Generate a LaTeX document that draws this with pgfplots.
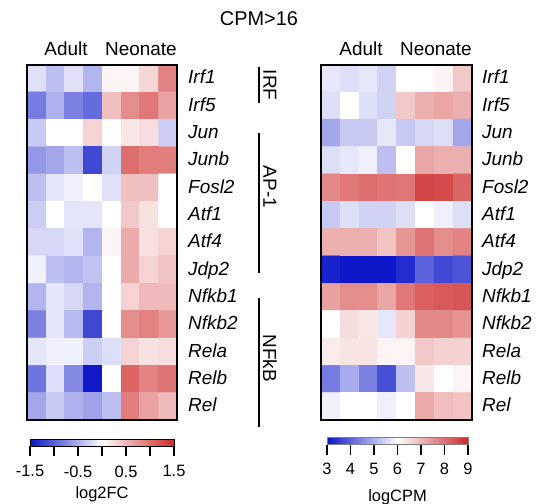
\documentclass[border=0pt]{standalone}
\usepackage{pgfplots}
\pgfplotsset{compat=1.18}
\usepackage{fontspec}
\setmainfont{Liberation Sans}
\pgfplotsset{colormap={bwr}{rgb255=(10,20,200) rgb255=(255,255,255) rgb255=(205,40,40)}}
\newcommand{\lab}{\fontsize{19}{22}\selectfont}
\newcommand{\tl}{\fontsize{16.5}{19}\selectfont}
\begin{document}
\begin{tikzpicture}
\path[use as bounding box] (0,0) rectangle (539bp,504bp);
% ---------------- left heatmap: log2FC
\begin{axis}[at={(27bp,84bp)}, anchor=south west, scale only axis,
  width=150bp, height=355.5bp,
  xmin=-0.5, xmax=7.5, ymin=-0.5, ymax=12.5, y dir=reverse,
  xtick=\empty, ytick=\empty, axis on top,
  axis line style={line width=2bp},
  colormap name=bwr, point meta min=-1.5, point meta max=1.5,
  colorbar horizontal,
  colorbar style={at={(parent axis.south west)}, anchor=north west,
    xshift=3bp, yshift=-10.5bp, scale only axis, width=144bp, height=7bp,
    xtick={-1.5,-1,-0.5,0,0.5,1,1.5}, xticklabels={-1.5,,-0.5,,0.5,,1.5},
    xtick pos=bottom, ytick=\empty,
    tick align=outside, major tick length=10bp,
    xtick style={black, line width=1.2bp},
    axis line style={black, line width=0.8bp},
    xticklabel style={font=\tl, yshift=-6bp},
    xlabel={log2FC}, xlabel style={font=\tl, yshift=-2.5bp}}]
\addplot[matrix plot*, mesh/cols=8, point meta=explicit] table[row sep=\\, meta=c]{
x y c\\
0 0 -0.19\\ 1 0 -0.41\\ 2 0 -0.19\\ 3 0 -0.47\\ 4 0 0.07\\ 5 0 0.07\\ 6 0 0.28\\ 7 0 0.87\\
0 1 -0.84\\ 1 1 -0.50\\ 2 1 -0.81\\ 3 1 -0.94\\ 4 1 0.45\\ 5 1 0.80\\ 6 1 0.94\\ 7 1 0.66\\
0 2 -0.34\\ 1 2 0\\ 2 2 0\\ 3 2 0.31\\ 4 2 0\\ 5 2 0.17\\ 6 2 0.24\\ 7 2 -0.31\\
0 3 -0.66\\ 1 3 -0.56\\ 2 3 -0.41\\ 3 3 -1.16\\ 4 3 -0.28\\ 5 3 1.01\\ 6 3 0.91\\ 7 3 0.91\\
0 4 -0.41\\ 1 4 -0.16\\ 2 4 -0.09\\ 3 4 0\\ 4 4 -0.19\\ 5 4 0.45\\ 6 4 0.45\\ 7 4 0\\
0 5 -0.31\\ 1 5 0\\ 2 5 -0.16\\ 3 5 -0.16\\ 4 5 0\\ 5 5 0.38\\ 6 5 0.21\\ 7 5 0\\
0 6 -0.25\\ 1 6 -0.25\\ 2 6 -0.19\\ 3 6 -0.47\\ 4 6 0.07\\ 5 6 0.59\\ 6 6 0.21\\ 7 6 0.31\\
0 7 -0.09\\ 1 7 -0.41\\ 2 7 -0.47\\ 3 7 -0.38\\ 4 7 0\\ 5 7 0.59\\ 6 7 0.31\\ 7 7 0.42\\
0 8 -0.47\\ 1 8 -0.16\\ 2 8 -0.25\\ 3 8 -0.47\\ 4 8 0\\ 5 8 0.31\\ 6 8 0.49\\ 7 8 0.49\\
0 9 -0.81\\ 1 9 -0.16\\ 2 9 -0.44\\ 3 9 -1.16\\ 4 9 0\\ 5 9 0.80\\ 6 9 0.87\\ 7 9 0.73\\
0 10 -0.16\\ 1 10 -0.09\\ 2 10 -0.09\\ 3 10 -0.31\\ 4 10 -0.21\\ 5 10 0.31\\ 6 10 0.21\\ 7 10 0.24\\
0 11 -0.88\\ 1 11 -0.21\\ 2 11 -0.75\\ 3 11 -1.47\\ 4 11 0\\ 5 11 1.08\\ 6 11 0.87\\ 7 11 0.98\\
0 12 -0.56\\ 1 12 -0.34\\ 2 12 -0.50\\ 3 12 -0.59\\ 4 12 -0.41\\ 5 12 0.91\\ 6 12 0.66\\ 7 12 0.49\\
};
\end{axis}
% ---------------- right heatmap: logCPM
\begin{axis}[at={(321bp,84bp)}, anchor=south west, scale only axis,
  width=151bp, height=355.5bp,
  xmin=-0.5, xmax=7.5, ymin=-0.5, ymax=12.5, y dir=reverse,
  xtick=\empty, ytick=\empty, axis on top,
  axis line style={line width=2bp},
  colormap name=bwr, point meta min=3, point meta max=9,
  colorbar horizontal,
  colorbar style={at={(parent axis.south west)}, anchor=north west,
    xshift=6bp, yshift=-9bp, scale only axis, width=141bp, height=7bp,
    xtick={3,4,5,6,7,8,9}, xticklabels={3,4,5,6,7,8,9},
    xtick pos=bottom, ytick=\empty,
    tick align=outside, major tick length=10bp,
    xtick style={black, line width=1.2bp},
    axis line style={gray, line width=0.8bp},
    xticklabel style={font=\tl, yshift=-5bp},
    xlabel={logCPM}, xlabel style={font=\tl, yshift=-8bp}}]
\addplot[matrix plot*, mesh/cols=8, point meta=explicit] table[row sep=\\, meta=c]{
x y c\\
0 0 5.69\\ 1 0 5.59\\ 2 0 5.69\\ 3 0 5.44\\ 4 0 6\\ 5 0 6\\ 6 0 6.14\\ 7 0 6.77\\
0 1 5.59\\ 1 1 6\\ 2 1 5.59\\ 3 1 5.44\\ 4 1 6.77\\ 5 1 7.12\\ 6 1 7.26\\ 7 1 7.12\\
0 2 4.88\\ 1 2 5.31\\ 2 2 5.31\\ 3 2 5.69\\ 4 2 5.31\\ 5 2 5.50\\ 6 2 5.59\\ 7 2 4.88\\
0 3 5.59\\ 1 3 5.69\\ 2 3 5.81\\ 3 3 5.19\\ 4 3 6\\ 5 3 7.26\\ 6 3 7.12\\ 7 3 7.12\\
0 4 7.67\\ 1 4 7.88\\ 2 4 8.02\\ 3 4 7.95\\ 4 4 7.91\\ 5 4 8.58\\ 6 4 8.51\\ 7 4 8.16\\
0 5 5.31\\ 1 5 5.59\\ 2 5 5.44\\ 3 5 5.44\\ 4 5 5.59\\ 5 5 6\\ 6 5 5.81\\ 7 5 5.59\\
0 6 7.12\\ 1 6 7.12\\ 2 6 7.12\\ 3 6 6.84\\ 4 6 7.47\\ 5 6 7.95\\ 6 6 7.60\\ 7 6 7.74\\
0 7 3.19\\ 1 7 3.05\\ 2 7 3.05\\ 3 7 3.05\\ 4 7 3.31\\ 5 7 4.00\\ 6 7 3.69\\ 7 7 3.81\\
0 8 7.33\\ 1 8 7.60\\ 2 8 7.60\\ 3 8 7.26\\ 4 8 7.88\\ 5 8 8.23\\ 6 8 8.30\\ 7 8 8.37\\
0 9 6\\ 1 9 6.49\\ 2 9 6.35\\ 3 9 5.69\\ 4 9 6.63\\ 5 9 7.67\\ 6 9 7.67\\ 7 9 7.53\\
0 10 6.28\\ 1 10 6.38\\ 2 10 6.38\\ 3 10 6.14\\ 4 10 6.14\\ 5 10 6.77\\ 6 10 6.63\\ 7 10 6.63\\
0 11 4.31\\ 1 11 4.94\\ 2 11 4.38\\ 3 11 3.75\\ 4 11 5.19\\ 5 11 6.35\\ 6 11 6\\ 7 11 6.14\\
0 12 5.81\\ 1 12 6\\ 2 12 6\\ 3 12 5.81\\ 4 12 6\\ 5 12 7.19\\ 6 12 6.91\\ 7 12 6.84\\
};
\end{axis}
% ---------------- texts
\node[font=\fontsize{20}{24}\selectfont, anchor=base] at (259bp,478bp) {CPM>16};
\node[font=\lab, anchor=base] at (66bp,448bp) {Adult};
\node[font=\lab, anchor=base] at (141bp,448bp) {Neonate};
\node[font=\lab, anchor=base] at (361bp,448bp) {Adult};
\node[font=\lab, anchor=base] at (436bp,448bp) {Neonate};
\foreach \n [count=\i from 0] in {Irf1,Irf5,Jun,Junb,Fosl2,Atf1,Atf4,Jdp2,Nfkb1,Nfkb2,Rela,Relb,Rel}{
  \node[font=\lab\itshape, anchor=base west, inner sep=0pt] at (188bp,{420.33bp-27.35bp*\i}) {\n};
  \node[font=\lab\itshape, anchor=base west, inner sep=0pt] at (482bp,{420.33bp-27.35bp*\i}) {\n};
}
% group brackets
\draw[line width=2bp] (259bp,437bp) -- (259bp,401bp);
\draw[line width=2bp] (259bp,371bp) -- (259bp,231bp);
\draw[line width=2bp] (259bp,206bp) -- (259bp,77bp);
\node[font=\lab, rotate=-90] at (270bp,419bp) {IRF};
\node[font=\lab, rotate=-90] at (270bp,317bp) {AP-1};
\node[font=\lab, rotate=-90] at (270bp,146bp) {NFkB};
\end{tikzpicture}
\end{document}
